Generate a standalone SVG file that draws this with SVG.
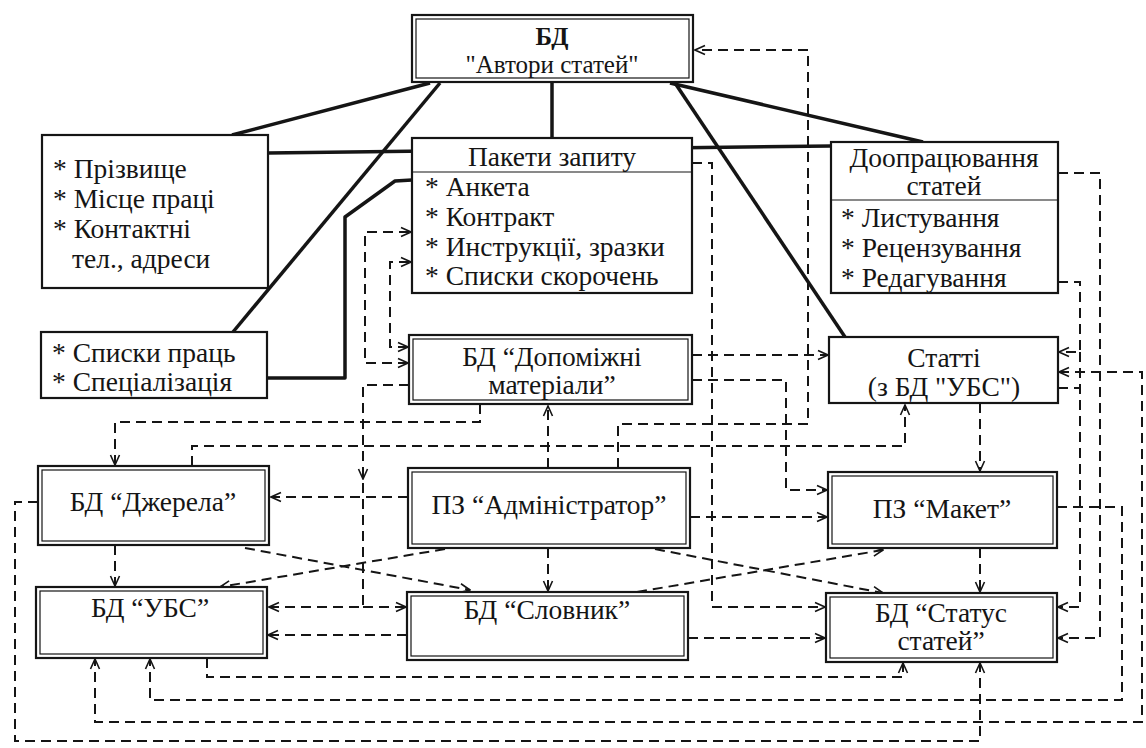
<svg xmlns="http://www.w3.org/2000/svg" width="1146" height="748" viewBox="0 0 1146 748">
<style>
.t{font-family:"Liberation Serif","Times New Roman",serif;font-size:27.5px;fill:#151515}
.s{font-size:25px}
.c{text-anchor:middle}
.b{font-weight:bold}
.box{fill:#fff;stroke:#151515;stroke-width:2.2}
.in{fill:none;stroke:#151515;stroke-width:1.2}
.solid{fill:none;stroke:#151515;stroke-width:3.5;stroke-linejoin:round}
.d{fill:none;stroke:#151515;stroke-width:2;stroke-dasharray:10 6}
.da{fill:none;stroke:#151515;stroke-width:2;stroke-dasharray:10 6;marker-end:url(#ah)}
.dd{fill:none;stroke:#151515;stroke-width:2;stroke-dasharray:10 6;marker-end:url(#ah);marker-start:url(#ah)}
</style>
<defs>
<marker id="ah" viewBox="0 0 12 12" refX="11" refY="6" markerWidth="12" markerHeight="12" markerUnits="userSpaceOnUse" orient="auto-start-reverse"><path d="M1,1.5 L11,6 L1,10.5" fill="none" stroke="#151515" stroke-width="1.6"/></marker>
</defs>
<rect width="1146" height="748" fill="#fff"/>
<g id="connectors">
<line class="solid" x1="232" y1="135" x2="430" y2="83"/>
<line class="solid" x1="233" y1="332" x2="440" y2="83"/>
<line class="solid" x1="552" y1="83" x2="552" y2="138"/>
<line class="solid" x1="670" y1="83" x2="923" y2="142"/>
<line class="solid" x1="675" y1="83" x2="845" y2="337"/>
<line class="solid" x1="268" y1="153" x2="831" y2="146"/>
<polyline class="solid" points="268,378 345,378 345,217 395,181 412,180"/>
<path class="da" d="M618,468 L618,424 L808,424 L808,50 L695,50"/>
<path class="da" d="M192,466 L192,446 L905,446 L905,405"/>
<path class="da" d="M548,468 L548,406"/>
<path class="da" d="M480,404 L480,422 L115,422 L115,465"/>
<path class="dd" d="M408,363 L365,363 L365,232 L411,232"/>
<path class="dd" d="M408,347 L390,347 L390,262 L411,262"/>
<path class="da" d="M409,385 L363,385 L363,607 L269,607"/>
<path class="da" d="M363,607 L406,607"/>
<path class="da" d="M363,468 L363,479"/>
<path class="da" d="M408,497 L271,497"/>
<path class="da" d="M548,548 L548,591"/>
<path class="da" d="M690,517 L827,517"/>
<path class="da" d="M692,163 L712,163 L712,607 L825,607"/>
<path class="da" d="M692,355 L828,355"/>
<path class="da" d="M692,380 L786,380 L786,490 L827,490"/>
<path class="da" d="M980,403 L980,471"/>
<path class="da" d="M980,548 L980,592"/>
<path class="da" d="M38,502 L15,502 L15,741 L980,741 L980,663"/>
<path class="da" d="M207,658 L207,677 L903,677 L903,663"/>
<path class="da" d="M1057,507 L1122,507 L1122,700 L150,700 L150,659"/>
<path class="dd" d="M1059,372 L1142,372 L1142,722 L95,722 L95,659"/>
<path class="da" d="M1058,173 L1100,173 L1100,638 L1058,638"/>
<path class="da" d="M1058,282 L1080,282 L1080,352 L1059,352"/>
<path class="da" d="M1058,388 L1080,388 M1080,352 L1080,607 L1058,607"/>
<path class="da" d="M407,635 L268,635"/>
<path class="da" d="M688,638 L825,638"/>
<path class="da" d="M115,545 L115,586"/>
<path class="da" d="M245,548 L470,590"/>
<path class="da" d="M445,549 L220,587"/>
<path class="da" d="M637,592 L883,550"/>
<path class="da" d="M655,549 L883,593"/>
</g>
<g id="n-avtory">
<rect class="box" x="412" y="15" width="281" height="67" stroke-width="3"/>
<rect class="in" x="416" y="19" width="273" height="59"/>
<text class="t s c b" x="552" y="45">БД</text>
<text class="t s c" x="552" y="73">"Автори статей"</text>
</g>
<g id="n-prizvyshche">
<rect class="box" x="42" y="135" width="226" height="153"/>
<text class="t" x="53" y="178">* Прізвище</text>
<text class="t" x="53" y="208">* Місце праці</text>
<text class="t" x="53" y="238">* Контактні</text>
<text class="t" x="72" y="268">тел., адреси</text>
</g>
<g id="n-pakety">
<rect class="box" x="412" y="138" width="280" height="155"/>
<line class="in" x1="412" y1="172" x2="692" y2="172" stroke-width="2"/>
<text class="t c" x="552" y="166">Пакети запиту</text>
<text class="t" x="425" y="196">* Анкета</text>
<text class="t" x="425" y="226">* Контракт</text>
<text class="t" x="425" y="256">* Инструкції, зразки</text>
<text class="t" x="425" y="285">* Списки скорочень</text>
</g>
<g id="n-doopratsiuvannia">
<rect class="box" x="831" y="142" width="227" height="151"/>
<line class="in" x1="831" y1="200" x2="1058" y2="200" stroke-width="2"/>
<text class="t c" x="944" y="167">Доопрацювання</text>
<text class="t c" x="944" y="195">статей</text>
<text class="t" x="841" y="227">* Листування</text>
<text class="t" x="841" y="257">* Рецензування</text>
<text class="t" x="841" y="287">* Редагування</text>
</g>
<g id="n-spysky">
<rect class="box" x="41" y="332" width="226" height="66"/>
<text class="t" x="52" y="362">* Списки праць</text>
<text class="t" x="52" y="391">* Спеціалізація</text>
</g>
<g id="n-dopomizhni">
<rect class="box" x="409" y="335" width="283" height="69" stroke-width="3"/>
<rect class="in" x="413" y="339" width="275" height="61"/>
<text class="t c" x="552" y="366">БД “Допоміжні</text>
<text class="t c" x="552" y="394">матеріали”</text>
</g>
<g id="n-statti">
<rect class="box" x="829" y="337" width="229" height="66"/>
<text class="t c" x="944" y="367">Статті</text>
<text class="t c" x="944" y="396">(з БД "УБС")</text>
</g>
<g id="n-dzherela">
<rect class="box" x="38" y="466" width="231" height="79" stroke-width="3"/>
<rect class="in" x="42" y="470" width="223" height="71"/>
<text class="t c" x="153" y="511">БД “Джерела”</text>
</g>
<g id="n-admin">
<rect class="box" x="408" y="468" width="282" height="80" stroke-width="3"/>
<rect class="in" x="412" y="472" width="274" height="72"/>
<text class="t c" x="549" y="514">ПЗ “Адміністратор”</text>
</g>
<g id="n-maket">
<rect class="box" x="828" y="472" width="229" height="76" stroke-width="3"/>
<rect class="in" x="832" y="476" width="221" height="68"/>
<text class="t c" x="942" y="518">ПЗ “Макет”</text>
</g>
<g id="n-ubs">
<rect class="box" x="36" y="587" width="231" height="71" stroke-width="3"/>
<rect class="in" x="40" y="591" width="223" height="63"/>
<text class="t c" x="150" y="617">БД “УБС”</text>
</g>
<g id="n-slovnyk">
<rect class="box" x="407" y="592" width="281" height="68" stroke-width="3"/>
<rect class="in" x="411" y="596" width="273" height="60"/>
<text class="t c" x="547" y="619">БД “Словник”</text>
</g>
<g id="n-status">
<rect class="box" x="826" y="593" width="231" height="69" stroke-width="3"/>
<rect class="in" x="830" y="597" width="223" height="61"/>
<text class="t c" x="941" y="622">БД “Статус</text>
<text class="t c" x="941" y="650">статей”</text>
</g>
</svg>
